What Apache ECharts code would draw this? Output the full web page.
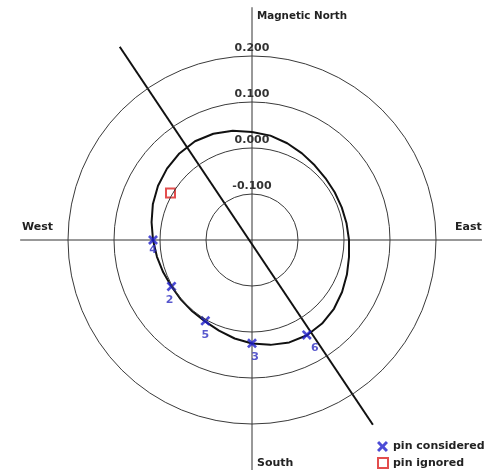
<!DOCTYPE html>
<html>
<head>
<meta charset="utf-8">
<script src="https://cdn.jsdelivr.net/npm/echarts@6/dist/echarts.min.js"></script>
<style>
  html, body { margin: 0; padding: 0; background: #fff; }
  #chart { width: 495px; height: 474px; }
</style>
</head>
<body>
<div id="chart"></div>
<script>
// Pin readings: bearing (degrees clockwise from magnetic north) and radial value
const pinNames = ['6', '3', '5', '2', '4'];
const pinAngles = [150, 180, 210, 240, 270];
const pinValues = [0.0383, 0.0246, 0.0030, 0.0020, 0.0152];

const ignoredAngles = [300];
const ignoredValues = [0.0046];

// Fitted closed curve through the pins, sampled every 10 degrees
const curveAngles = [0, 10, 20, 30, 40, 50, 60, 70, 80, 90, 100, 110,
                     120, 130, 140, 150, 160, 170, 180, 190, 200, 210, 220, 230,
                     240, 250, 260, 270, 280, 290, 300, 310, 320, 330, 340, 350, 360];
const curveValues = [0.0348, 0.0304, 0.0239, 0.0174, 0.0120, 0.0087, 0.0076, 0.0076,
                     0.0087, 0.0109, 0.0141, 0.0196, 0.0261, 0.0326, 0.0370, 0.0391,
                     0.0370, 0.0315, 0.0250, 0.0174, 0.0098, 0.0043, 0.0022, 0.0017,
                     0.0022, 0.0054, 0.0098, 0.0152, 0.0217, 0.0293, 0.0359, 0.0413,
                     0.0457, 0.0478, 0.0457, 0.0413, 0.0348];

// Direction line (two ends)
const axisLineAngles = [325.6, 146.8];
const axisLineValues = [0.309, 0.280];

// Compass cross: north, south, west, east reach
const crossAngles = [0, 180, 270, 90];
const crossValues = [0.306, 0.300, 0.304, 0.300];

// Radial scale of the rings, and the wider frame used for the cross
const radiusMin = -0.2;
const radiusMax = 0.2;
const radiusStep = 0.1;
const frameMax = 0.31;

const compassLabels = ['Magnetic North', 'West', 'East', 'South'];
const legendNames = ['pin considered', 'pin ignored'];

const FONT = '"DejaVu Sans", Verdana, sans-serif';
const BLUE = '#1f1fcc';
const LABEL_BLUE = '#2e2ec0';
const RED = '#dc2222';
const crossPath = 'path://M0,1.9L1.9,0L5,3.1L8.1,0L10,1.9L6.9,5L10,8.1L8.1,10L5,6.9L1.9,10L0,8.1L3.1,5Z';

const zip = (vals, angs) => vals.map((v, i) => [v, angs[i]]);

// Both polar frames share one pixel scale (184 px per 0.4)
const PX_PER_UNIT = 184 / (radiusMax - radiusMin);

const hiddenAngle = {
  type: 'value', min: 0, max: 360, startAngle: 90, clockwise: true,
  axisLine: { show: false }, axisTick: { show: false },
  axisLabel: { show: false }, splitLine: { show: false }
};

// Per-pin nudges for the number labels
const pinLabelOffsets = { '6': [8, 1], '3': [3, 1], '5': [0, 2], '2': [-2, 1], '4': [0, -2] };

const chart = echarts.init(document.getElementById('chart'), null, { renderer: 'canvas' });

chart.setOption({
  animation: false,
  backgroundColor: '#fff',
  polar: [
    { center: [252, 240], radius: 184 },
    { center: [252, 240], radius: (frameMax - radiusMin) * PX_PER_UNIT }
  ],
  angleAxis: [
    Object.assign({ polarIndex: 0 }, hiddenAngle),
    Object.assign({ polarIndex: 1 }, hiddenAngle)
  ],
  radiusAxis: [
    {
      polarIndex: 0,
      type: 'value', min: radiusMin, max: radiusMax, interval: radiusStep,
      axisLine: { show: false }, axisTick: { show: false },
      splitLine: { show: true, lineStyle: { color: '#3a3a3a', width: 1 } },
      axisLabel: {
        show: true, showMinLabel: false, margin: 0,
        align: 'center', verticalAlign: 'bottom', padding: [0, 0, 2, 0],
        color: '#333', fontFamily: FONT, fontWeight: 'bold', fontSize: 11,
        formatter: v => (Math.abs(v) < 1e-9 ? 0 : v).toFixed(3)
      },
      z: 10
    },
    {
      polarIndex: 1,
      type: 'value', min: radiusMin, max: frameMax,
      axisLine: { show: false }, axisTick: { show: false },
      axisLabel: { show: false }, splitLine: { show: false }
    }
  ],
  legend: [
    {
      orient: 'vertical', left: 372, top: 436, itemWidth: 11, itemHeight: 11,
      data: [legendNames[0]],
      textStyle: { color: '#222', fontFamily: FONT, fontWeight: 'bold', fontSize: 11 }
    },
    {
      orient: 'vertical', left: 372, top: 452, itemWidth: 10, itemHeight: 10,
      data: [legendNames[1]],
      textStyle: { color: '#222', fontFamily: FONT, fontWeight: 'bold', fontSize: 11 }
    }
  ],
  graphic: [
    { type: 'text', x: 257, y: 16, style: { text: compassLabels[0], font: 'bold 10.3px ' + FONT, fill: '#222', verticalAlign: 'middle' } },
    { type: 'text', x: 22, y: 227, style: { text: compassLabels[1], font: 'bold 11px ' + FONT, fill: '#222', verticalAlign: 'middle' } },
    { type: 'text', x: 455, y: 227, style: { text: compassLabels[2], font: 'bold 11px ' + FONT, fill: '#222', verticalAlign: 'middle' } },
    { type: 'text', x: 257, y: 463, style: { text: compassLabels[3], font: 'bold 11px ' + FONT, fill: '#222', verticalAlign: 'middle' } }
  ],
  series: [
    {
      type: 'line', coordinateSystem: 'polar', polarIndex: 1, silent: true,
      data: zip(crossValues.slice(0, 2), crossAngles.slice(0, 2)),
      symbol: 'none', lineStyle: { color: '#333', width: 1 }, z: 1
    },
    {
      type: 'line', coordinateSystem: 'polar', polarIndex: 1, silent: true,
      data: zip(crossValues.slice(2, 4), crossAngles.slice(2, 4)),
      symbol: 'none', lineStyle: { color: '#333', width: 1 }, z: 1
    },
    {
      type: 'line', coordinateSystem: 'polar', polarIndex: 1, silent: true,
      data: zip(axisLineValues, axisLineAngles),
      symbol: 'none', lineStyle: { color: '#111', width: 2 }, z: 3
    },
    {
      type: 'line', coordinateSystem: 'polar', polarIndex: 0, silent: true,
      data: zip(curveValues, curveAngles), smooth: false,
      symbol: 'none', lineStyle: { color: '#111', width: 2, join: 'round' }, z: 3
    },
    {
      name: legendNames[0], type: 'scatter', coordinateSystem: 'polar', polarIndex: 0,
      symbol: crossPath, symbolSize: 10,
      itemStyle: { color: BLUE },
      data: pinValues.map((v, i) => ({
        name: pinNames[i], value: [v, pinAngles[i]],
        label: { offset: pinLabelOffsets[pinNames[i]] }
      })),
      label: {
        show: true, position: 'bottom', distance: 2, formatter: p => p.name,
        color: LABEL_BLUE, fontFamily: FONT, fontWeight: 'bold', fontSize: 11
      },
      z: 5
    },
    {
      name: legendNames[1], type: 'scatter', coordinateSystem: 'polar', polarIndex: 0,
      symbol: 'emptyRect', symbolSize: 9,
      itemStyle: { color: RED, borderColor: RED, borderWidth: 2 },
      data: zip(ignoredValues, ignoredAngles),
      z: 5
    }
  ]
});
</script>
</body>
</html>
